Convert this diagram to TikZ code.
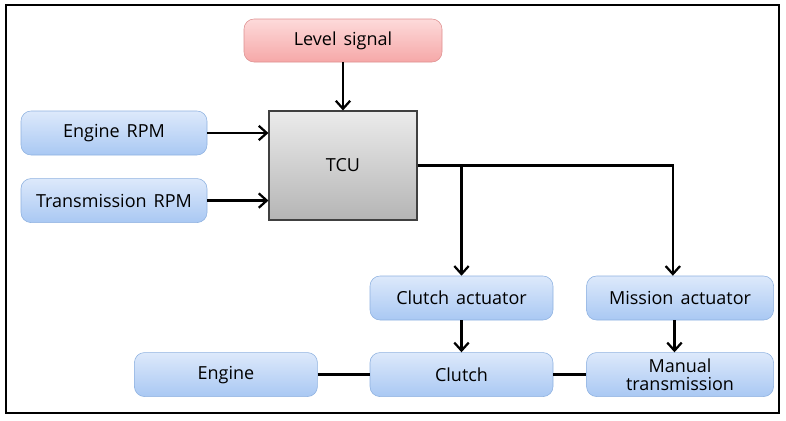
\documentclass[tikz,border=0pt]{standalone}
\usepackage{fontspec}
\setmainfont[WordSpace=1.5]{Open Sans}
\usepackage{tikz}
\usetikzlibrary{calc,positioning,arrows.meta}

\begin{document}
\begin{tikzpicture}[
            node distance=8mm,
            font=\fontsize{12.8}{15}\selectfont,
            flow/.style={-{Straight Barb[length=2mm,width=3.6mm,line width=1.6pt]},line width=1.6pt},
            link/.style={line width=1.6pt}
        ]
            \definecolor{bltop}{HTML}{DDE9FB}
            \definecolor{blbot}{HTML}{A9C8F3}
            \definecolor{bledge}{HTML}{8EB1E0}
            \definecolor{rdtop}{HTML}{FDDADA}
            \definecolor{rdbot}{HTML}{F6A8A8}
            \definecolor{rdedge}{HTML}{DE9090}
            \definecolor{grtop}{HTML}{EBEBEB}
            \definecolor{grbot}{HTML}{B5B5B5}

            \useasboundingbox (0,0) rectangle (19.65,-10.5);
            \draw [line width=1.5pt] (0.15,-0.125) rectangle (19.475,-10.325);

            \node (tcu) [draw=black!75,thick,top color=grtop,bottom color=grbot,
                         minimum width=3.7cm,minimum height=2.725cm] at (8.575,-4.1375) {TCU};
            \node (lvl) [draw=rdedge,rounded corners=2.5mm,top color=rdtop,bottom color=rdbot,
                         minimum width=4.95cm,minimum height=1.075cm] at (8.575,-1.0125) {Level signal};

            \begin{scope}[
                every node/.style={draw=bledge,rounded corners=2.5mm,top color=bltop,bottom color=blbot,
                                   minimum height=1.1cm,inner sep=1pt,align=center}
            ]
                \node (erpm) [minimum width=4.65cm] at (2.85,-3.325)       {Engine RPM};
                \node (trpm) [minimum width=4.65cm,below=5.75mm of erpm]  {Transmission RPM};
                \node (cact) [minimum width=4.575cm] at (11.5375,-7.45)    {Clutch actuator};
                \node (mact) [minimum width=4.675cm,right=8.25mm of cact] {Mission actuator};
                \node (clu)  [minimum width=4.575cm,below=of cact]         {Clutch};
                \node (mtr)  [minimum width=4.675cm,below=of mact]         {Manual\\[-2pt]transmission};
                \node (eng)  [minimum width=4.575cm,left=13mm of clu]      {Engine};
            \end{scope}

            \coordinate (split) at (tcu.east -| cact.north);
            \draw [flow] (lvl) -- (tcu);
            \draw [flow] (erpm) -- (erpm -| tcu.west);
            \draw [flow] (trpm) -- (trpm -| tcu.west);
            \draw [link] (tcu.east) -- (split);
            \draw [flow] (split) -- (cact.north);
            \draw [flow] (split) -| ([xshift=-1.8mm]mact.north);
            \draw [flow] (cact) -- (clu);
            \draw [flow] ([xshift=-1.4mm]mact.south) -- ([xshift=-1.4mm]mtr.north);
            \draw [link] (eng) -- (clu);
            \draw [link] (clu) -- (mtr);
        \end{tikzpicture}
\end{document}
